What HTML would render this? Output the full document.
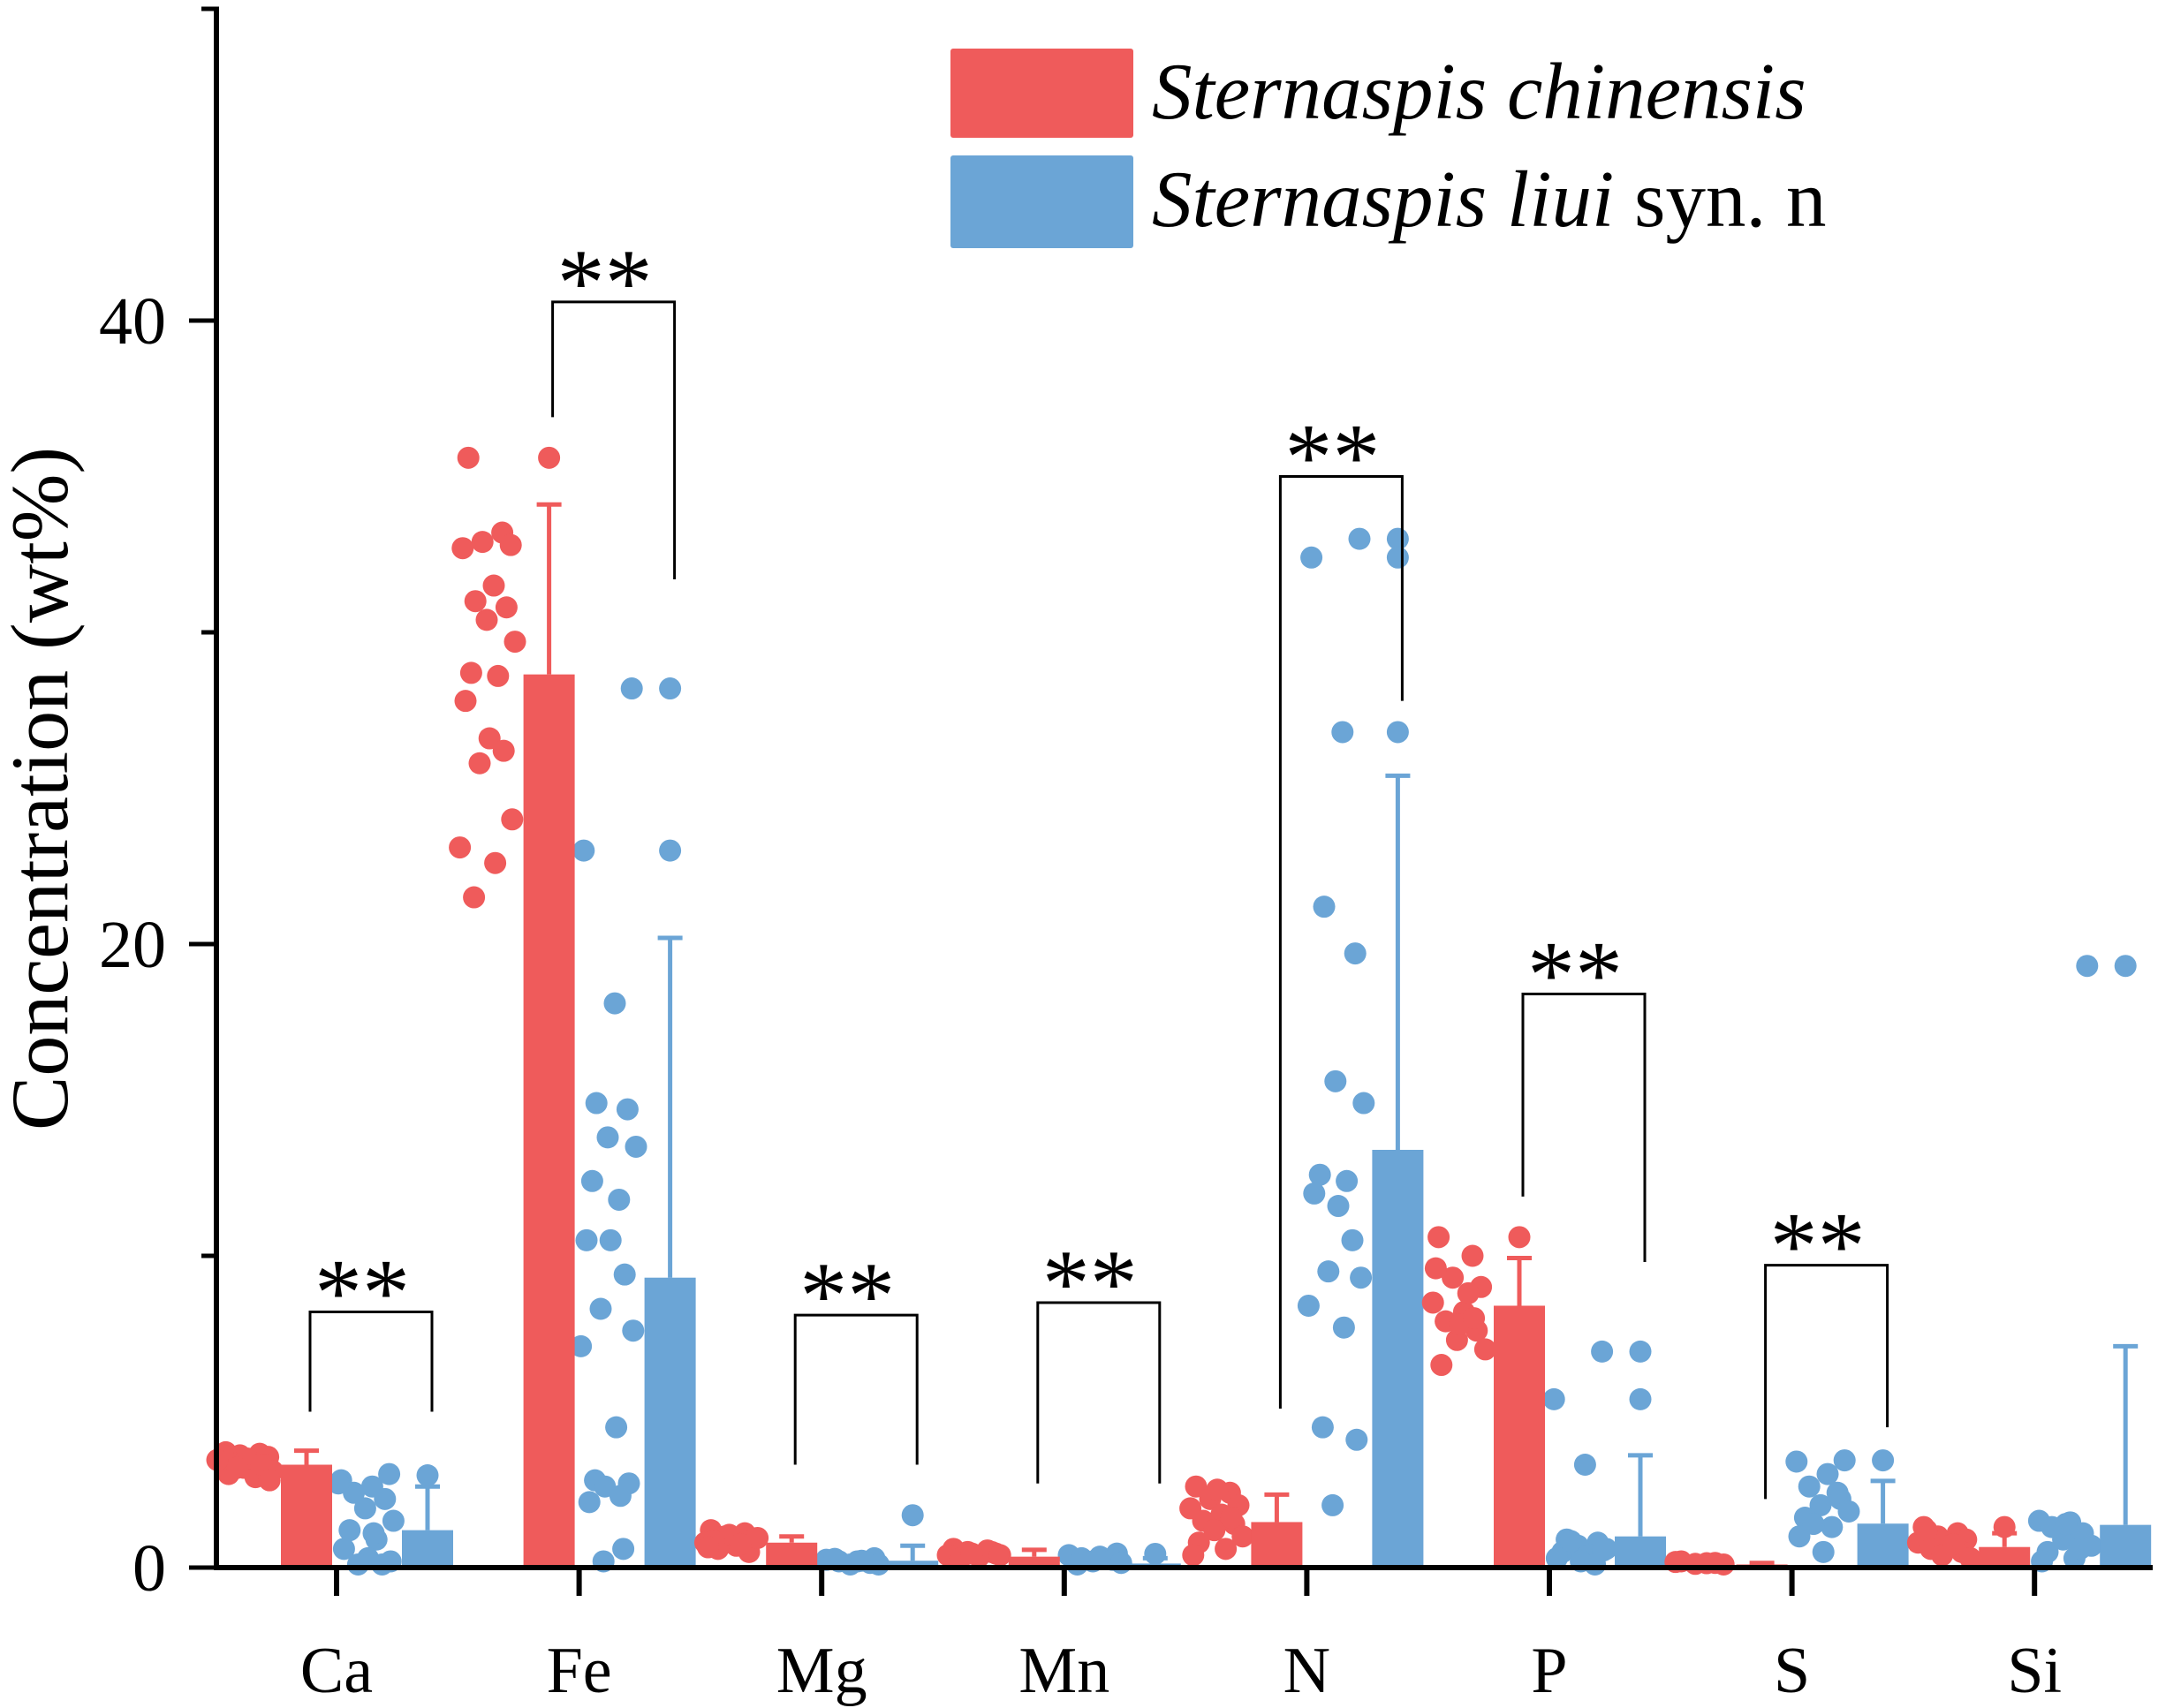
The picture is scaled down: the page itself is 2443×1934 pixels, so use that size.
<!DOCTYPE html>
<html><head><meta charset="utf-8"><style>
html,body{margin:0;padding:0;background:#fff;}
svg{display:block;font-family:"Liberation Serif",serif;}
</style></head><body>
<svg id="chart" width="2443" height="1934" viewBox="0 0 2443 1934" xmlns="http://www.w3.org/2000/svg">
<g id="marks"></g>
<g id="axes"></g>
<g>
  <rect x="1076" y="55" width="207" height="101" rx="3" fill="#EF5B5B"/>
  <rect x="1076" y="176" width="207" height="105" rx="3" fill="#6BA5D6"/>
  <text x="1304" y="134" font-size="91" font-style="italic">Sternaspis chinensis</text>
  <text x="1304" y="256" font-size="91"><tspan font-style="italic">Sternaspis liui</tspan> syn. n</text>
</g>
<text transform="translate(76,893) rotate(-90)" text-anchor="middle" font-size="92">Concentration (wt%)</text>
</svg>
<script>
const categories = ["Ca","Fe","Mg","Mn","N","P","S","Si"];
const redMean = [3.3,28.65,0.8,0.35,1.46,8.4,0.1,0.66];
const redErr  = [3.75,34.1,1.0,0.57,2.34,9.93,0.15,1.1];
const blueMean = [1.2,9.3,0.22,0.13,13.4,1.0,1.41,1.37];
const blueErr  = [2.6,20.2,0.7,0.3,25.4,3.6,2.78,7.1];
const redMaxDot = [null,35.6,null,null,null,10.6,null,1.3];
const blueMaxDot = [2.96,[28.2,23.0],1.68,0.44,[33.0,32.4,26.8],[6.93,5.4],3.44,19.3];
const redDots = [
 [3.7,3.65,3.6,3.55,3.5,3.4,3.35,3.3,3.2,3.1,3.0,2.9,3.6,3.5,3.3,3.2,2.8,3.45],
 [35.6,33.2,32.9,32.8,32.7,31.5,31.0,30.8,30.4,29.7,28.7,28.6,27.8,26.6,26.2,25.8,24.0,23.1,22.6,21.5],
 [1.2,1.1,1.0,0.9,0.8,0.7,0.6,0.5,1.05,0.95,0.85,0.75,0.65],
 [0.6,0.55,0.5,0.45,0.4,0.35,0.3,0.5,0.45,0.4],
 [2.6,2.4,2.2,2.0,1.9,1.7,1.5,1.4,1.2,1.0,0.8,0.6,0.4,2.5,1.6],
 [10.6,10.0,9.3,9.0,8.5,8.2,7.9,7.6,7.3,7.0,6.5,8.8,9.6,7.8,8.0],
 [0.2,0.15,0.12,0.1,0.18,0.14],
 [1.3,1.1,1.0,0.9,0.8,0.7,0.6,0.5,0.4,0.3,1.2,0.75]
];
const blueDots = [
 [3.0,2.8,2.6,2.4,2.2,1.9,1.5,1.2,0.9,0.6,0.3,0.1,0.1,0.2,2.7,1.1],
 [28.2,23.0,18.1,14.9,14.7,13.8,13.5,12.4,11.8,10.5,10.5,9.4,8.3,7.6,7.1,4.5,2.8,2.7,2.6,2.3,2.1,0.6,0.2],
 [0.3,0.25,0.2,0.2,0.15,0.1,0.1,0.28,0.22],
 [0.45,0.4,0.35,0.3,0.25,0.2,0.15,0.1],
 [33.0,32.4,26.8,21.2,19.7,15.6,14.9,12.6,12.4,12.0,11.6,10.5,9.5,9.3,8.4,7.7,4.5,4.1,2.0],
 [6.93,5.4,3.3,0.9,0.8,0.7,0.6,0.5,0.4,0.3,0.2,0.1,0.85,0.55],
 [3.44,3.4,3.0,2.6,2.2,2.0,1.8,1.6,1.3,1.0,0.5,2.4,1.4],
 [19.3,1.5,1.45,1.3,1.1,0.9,0.7,0.5,0.3,0.2,1.4,0.6]
];
const brackets = [
 {i:0, top:8.2, l:5.0, r:5.0},
 {i:1, top:40.6, l:36.9, r:31.7},
 {i:2, top:8.1, l:3.3, r:3.3},
 {i:3, top:8.5, l:2.7, r:2.7},
 {i:4, top:35.0, l:5.1, r:27.8},
 {i:5, top:18.4, l:11.9, r:9.8},
 {i:6, top:9.7, l:2.2, r:4.5}
];
const yTicks = [0,20,40];
const yMinor = [10,30];

const RED="#EF5B5B", BLUE="#6BA5D6";
const NS="http://www.w3.org/2000/svg";
const y0=1775, pxPerUnit=35.3, x0=381, step=274.6, bw=58;
function yScale(v){return y0 - v*pxPerUnit;}
function xCat(i){return x0 + i*step;}
function mk(parent,tag,attrs){const e=document.createElementNS(NS,tag);for(const k in attrs)e.setAttribute(k,attrs[k]);parent.appendChild(e);return e;}
const marks=document.getElementById('marks'), axes=document.getElementById('axes');
const jit=[-14,10,-4,16,-18,4,-9,13,-1,19,-12,7,-16,1,11,-6,17,-20,5,-10,14,-3,8];

function dot(cx,v,color,name){
  const c=mk(marks,'circle',{cx:cx,cy:yScale(v),r:12.5,fill:color});
  
  
}
categories.forEach((cat,i)=>{
  const xc=xCat(i);
  const rb=xc-34, bb=xc+103;
  redDots[i].forEach((v,k)=>dot(xc-103+jit[k%jit.length]*1.6,v,RED,'red-point'));
  blueDots[i].forEach((v,k)=>dot(xc+34+jit[(k+3)%jit.length]*1.6,v,BLUE,'blue-point'));
  [[rb,redMean[i],redErr[i],RED,'red'],[bb,blueMean[i],blueErr[i],BLUE,'blue']].forEach(([cx,m,e,col,nm])=>{
    const l=mk(marks,'line',{x1:cx,x2:cx,y1:yScale(m),y2:yScale(e),stroke:col,'stroke-width':5});
    
    
    const cap=mk(marks,'line',{x1:cx-14,x2:cx+14,y1:yScale(e),y2:yScale(e),stroke:col,'stroke-width':5});
    
    
    const r=mk(marks,'rect',{x:cx-bw/2,y:yScale(m),width:bw,height:Math.max(0,y0-yScale(m)),fill:col});
    
    
  });
  if(redMaxDot[i]!=null) dot(rb,redMaxDot[i],RED,'red-max-point');
  const bm=blueMaxDot[i]; (Array.isArray(bm)?bm:[bm]).forEach(v=>dot(bb,v,BLUE,'blue-max-point'));
  const t=mk(axes,'line',{x1:xc,x2:xc,y1:y0,y2:y0+32,stroke:'#000','stroke-width':6});
  
  
  const tx=mk(axes,'text',{x:xc,y:1916,'text-anchor':'middle','font-size':74});
  tx.textContent=cat;
  
  
});
brackets.forEach(b=>{
  const xl=xCat(b.i)-30, xr2=xCat(b.i)+108;
  const p=mk(marks,'polyline',{points:`${xl},${yScale(b.l)} ${xl},${yScale(b.top)} ${xr2},${yScale(b.top)} ${xr2},${yScale(b.r)}`,fill:'none',stroke:'#000','stroke-width':3});
  
  
  const s=mk(marks,'text',{x:(xl+xr2)/2-10,y:yScale(b.top)+14,'text-anchor':'middle','font-size':108});
  s.textContent='**';
  
  
});
const ya=mk(axes,'line',{x1:245,x2:245,y1:8,y2:y0+3,stroke:'#000','stroke-width':6});


const xa=mk(axes,'line',{x1:242,x2:2437,y1:y0,y2:y0,stroke:'#000','stroke-width':6});


const topT=mk(axes,'line',{x1:228,x2:248,y1:10,y2:10,stroke:'#000','stroke-width':5});


yTicks.forEach(v=>{
  const t=mk(axes,'line',{x1:214,x2:245,y1:yScale(v),y2:yScale(v),stroke:'#000','stroke-width':5});
  
  
  const tx=mk(axes,'text',{x:188,y:yScale(v)+26,'text-anchor':'end','font-size':76});
  tx.textContent=v;
  
  
});
yMinor.forEach(v=>{
  const t=mk(axes,'line',{x1:228,x2:245,y1:yScale(v),y2:yScale(v),stroke:'#000','stroke-width':5});
  
  
});
</script>
</body></html>
